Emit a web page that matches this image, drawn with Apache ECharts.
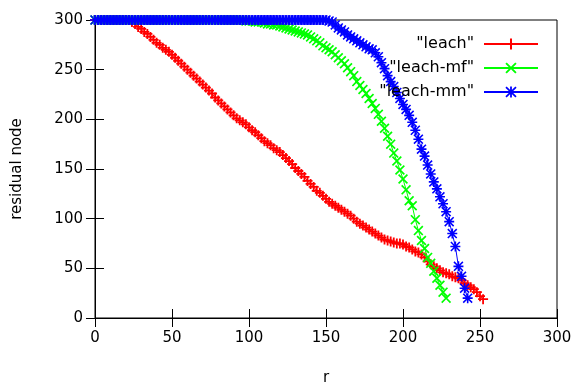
<!DOCTYPE html>
<html>
<head>
<meta charset="utf-8">
<script src="https://cdn.jsdelivr.net/npm/echarts@6/dist/echarts.min.js"></script>
<style>html,body{margin:0;padding:0;background:#fff}#c{width:576px;height:391px}</style>
</head>
<body>
<div id="c"></div>
<script>
const seriesNames = ['"leach"', '"leach-mf"', '"leach-mm"'];
const xTicks = [0, 50, 100, 150, 200, 250, 300];
const yTicks = [0, 50, 100, 150, 200, 250, 300];
const rounds = [0,2,4,6,8,10,12,14,16,18,20,22,24,26,28,30,32,34,36,38,40,42,44,46,48,50,52,54,56,58,60,62,64,66,68,70,72,74,76,78,80,82,84,86,88,90,92,94,96,98,100,102,104,106,108,110,112,114,116,118,120,122,124,126,128,130,132,134,136,138,140,142,144,146,148,150,152,154,156,158,160,162,164,166,168,170,172,174,176,178,180,182,184,186,188,190,192,194,196,198,200,202,204,206,208,210,212,214,216,218,220,222,224,226,228,230,232,234,236,238,240,242,244,246,248,250,252];
const leach = [300,300,300,300,300,300,300,300,300,300,300,300,
  298,296,293,291,288,286,283,280,277,275,272,270,268,265,262,259,256,253,250,247,244,241,238,235,232,229,226,222,219,216,213,210,207,204,201,199,197,195,192,189,187,184,181,178,176,174,171,169,167,164,161,158,155,151,148,145,142,138,135,132,128,126,123,120,117,115,113,111,109,107,105,103,100,97,95,93,91,89,87,85,83,81,79,78,77,76,75,75,74,72,71,69,67,66,64,61,57,54,52,50,48,46,45,44,42,41,40,38,35,33,31,29,26,22,19];
const leachMf = [300,300,300,300,300,300,300,300,300,300,300,300,300,300,300,300,300,300,300,300,300,300,300,300,300,300,300,300,300,300,300,300,300,300,300,300,300,300,300,300,300,300,300,300,300,300,300,300,300,
  299,299,299,298,298,298,297,
  296,296,295,295,294,293,292,291,290,289,288,287,286,285,283,281,279,277,274,272,270,268,265,262,259,256,252,248,244,238,234,230,226,221,216,211,205,198,191,183,175,166,158,149,140,129,118,113,99,88,78,70,61,55,47,40,33,26,20];
const leachMm = [300,300,300,300,300,300,300,300,300,300,300,300,300,300,300,300,300,300,300,300,300,300,300,300,300,300,300,300,300,300,300,300,300,300,300,300,300,300,300,300,300,300,300,300,300,300,300,300,300,300,300,300,300,300,300,300,300,300,300,300,300,300,300,300,300,300,300,300,300,300,300,300,300,300,300,300,
  299,298,295,292,290,288,285,283,281,279,277,275,273,271,270,267,263,257,251,244,238,233,227,221,215,210,204,197,189,180,170,163,154,145,137,130,122,115,107,97,85,72,52,42,30,20];

const pair = (vals) => vals.map((v, i) => [rounds[i], v]);

const plusSym = 'path://M4.1,0h1.8v10h-1.8z M0,4.1h10v1.8h-10z';
const xSym = 'path://M1.2,0 L5,3.8 L8.8,0 L10,1.2 L6.2,5 L10,8.8 L8.8,10 L5,6.2 L1.2,10 L0,8.8 L3.8,5 L0,1.2 Z';
const starSym = 'path://M4.2,0h1.6v10h-1.6z M0,4.2h10v1.6h-10z M1.1,0 L5,3.9 L8.9,0 L10,1.1 L6.1,5 L10,8.9 L8.9,10 L5,6.1 L1.1,10 L0,8.9 L3.9,5 L0,1.1 Z';
const colors = ['#ff0000', '#00ff00', '#0000ff'];
const font = 'DejaVu Sans';

const chart = echarts.init(document.getElementById('c'), null, {renderer: 'canvas'});
const mk = (name, vals, sym, color) => ({
  name: name, type: 'line', data: pair(vals), symbol: sym, symbolSize: 10,
  showAllSymbol: true,
  lineStyle: {color: color, width: 1},
  itemStyle: {color: color},
  emphasis: {disabled: true}
});
const baseAxis = {
  min: 0, max: 300, interval: 50,
  axisLine: {show: true, lineStyle: {color: '#000', width: 1}},
  axisTick: {show: true, inside: true, length: 9, lineStyle: {color: '#000'}},
  splitLine: {show: false}
};
chart.setOption({
  animation: false,
  backgroundColor: '#fff',
  textStyle: {fontFamily: font},
  grid: {left: 95, right: 19, top: 20, bottom: 67, show: true, borderColor: '#000', borderWidth: 1, containLabel: false},
  legend: {
    data: seriesNames, orient: 'vertical', right: 32, top: 31, align: 'right',
    itemWidth: 54, itemHeight: 14, itemGap: 8,
    textStyle: {fontFamily: font, fontSize: 16, color: '#000', padding: [0, 5, 0, 0]}
  },
  xAxis: [
    Object.assign({}, baseAxis, {type: 'value', position: 'bottom', name: 'r', nameLocation: 'middle', nameGap: 53,
      nameTextStyle: {fontFamily: font, fontSize: 15, color: '#000'},
      axisLabel: {fontFamily: font, fontSize: 15, color: '#000', margin: 13, formatter: (v) => xTicks.includes(v) ? String(v) : ''}}),
    Object.assign({}, baseAxis, {type: 'value', position: 'top', axisLabel: {show: false}})
  ],
  yAxis: [
    Object.assign({}, baseAxis, {type: 'value', position: 'left', name: 'residual node', nameLocation: 'middle', nameGap: 70,
      nameTextStyle: {fontFamily: font, fontSize: 15, color: '#000'},
      axisLabel: {fontFamily: font, fontSize: 15, color: '#000', margin: 12, formatter: (v) => yTicks.includes(v) ? String(v) : ''}}),
    Object.assign({}, baseAxis, {type: 'value', position: 'right', axisLabel: {show: false}})
  ],
  series: [
    mk(seriesNames[0], leach, plusSym, colors[0]),
    mk(seriesNames[1], leachMf, xSym, colors[1]),
    mk(seriesNames[2], leachMm, starSym, colors[2])
  ]
});
</script>
</body>
</html>
